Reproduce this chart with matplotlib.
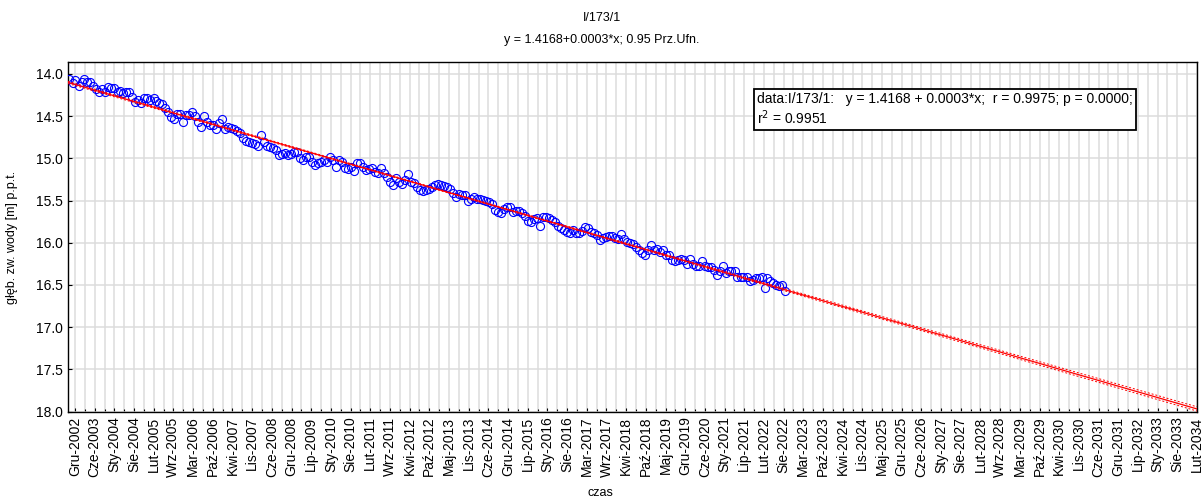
import numpy as np
import pandas as pd
import matplotlib
matplotlib.use('Agg')
import matplotlib.pyplot as plt
import matplotlib.dates as mdates
from matplotlib.ticker import FixedLocator

plt.rcParams['font.family'] = ['Liberation Sans', 'DejaVu Sans']

# pomiary miesięczne głębokości zwierciadła wody, otwór I/173/1
daty = pd.date_range('2002-10-01', periods=240, freq='MS') + pd.Timedelta(days=14)
glebokosc = [
    14.06, 14.11, 14.07, 14.14, 14.10, 14.06, 14.10, 14.10, 14.15, 14.18, 14.22, 14.18,
    14.22, 14.16, 14.17, 14.17, 14.22, 14.20, 14.23, 14.22, 14.22, 14.27, 14.33, 14.31,
    14.34, 14.29, 14.29, 14.31, 14.29, 14.32, 14.35, 14.36, 14.40, 14.45, 14.51, 14.53,
    14.47, 14.48, 14.57, 14.49, 14.49, 14.45, 14.50, 14.57, 14.63, 14.50, 14.57, 14.61,
    14.60, 14.65, 14.58, 14.54, 14.65, 14.63, 14.64, 14.65, 14.68, 14.70, 14.76, 14.79,
    14.81, 14.82, 14.83, 14.85, 14.72, 14.81, 14.85, 14.87, 14.88, 14.90, 14.96, 14.95,
    14.94, 14.96, 14.95, 14.93, 14.92, 15.00, 15.02, 14.99, 14.98, 15.04, 15.08, 15.06,
    15.04, 15.02, 15.04, 14.98, 15.02, 15.10, 15.02, 15.04, 15.11, 15.13, 15.10, 15.15,
    15.06, 15.06, 15.10, 15.14, 15.13, 15.11, 15.16, 15.18, 15.11, 15.17, 15.22, 15.28,
    15.32, 15.23, 15.28, 15.30, 15.26, 15.19, 15.28, 15.29, 15.34, 15.38, 15.39, 15.37,
    15.36, 15.34, 15.32, 15.31, 15.32, 15.33, 15.34, 15.36, 15.41, 15.46, 15.42, 15.44,
    15.44, 15.50, 15.48, 15.46, 15.48, 15.48, 15.49, 15.50, 15.52, 15.54, 15.61, 15.63,
    15.65, 15.60, 15.58, 15.58, 15.63, 15.62, 15.62, 15.65, 15.68, 15.74, 15.76, 15.72,
    15.71, 15.80, 15.70, 15.69, 15.71, 15.73, 15.75, 15.80, 15.83, 15.85, 15.87, 15.88,
    15.85, 15.89, 15.88, 15.86, 15.81, 15.83, 15.87, 15.89, 15.91, 15.97, 15.94, 15.93,
    15.92, 15.92, 15.94, 15.95, 15.90, 15.96, 15.99, 16.00, 16.01, 16.05, 16.09, 16.12,
    16.15, 16.09, 16.03, 16.09, 16.07, 16.11, 16.09, 16.15, 16.14, 16.20, 16.22, 16.20,
    16.19, 16.20, 16.25, 16.19, 16.25, 16.27, 16.27, 16.22, 16.27, 16.29, 16.29, 16.32,
    16.38, 16.33, 16.28, 16.36, 16.34, 16.34, 16.33, 16.40, 16.40, 16.40, 16.40, 16.45,
    16.44, 16.42, 16.42, 16.41, 16.53, 16.42, 16.45, 16.48, 16.50, 16.51, 16.50, 16.57,
]

etykiety_x = [
    'Gru-2002', 'Cze-2003', 'Sty-2004', 'Sie-2004', 'Lut-2005', 'Wrz-2005', 'Mar-2006',
    'Paź-2006', 'Kwi-2007', 'Lis-2007', 'Cze-2008', 'Gru-2008', 'Lip-2009', 'Sty-2010',
    'Sie-2010', 'Lut-2011', 'Wrz-2011', 'Kwi-2012', 'Paź-2012', 'Maj-2013', 'Lis-2013',
    'Cze-2014', 'Gru-2014', 'Lip-2015', 'Sty-2016', 'Sie-2016', 'Mar-2017', 'Wrz-2017',
    'Kwi-2018', 'Paź-2018', 'Maj-2019', 'Gru-2019', 'Cze-2020', 'Sty-2021', 'Lip-2021',
    'Lut-2022', 'Sie-2022', 'Mar-2023', 'Paź-2023', 'Kwi-2024', 'Lis-2024', 'Maj-2025',
    'Gru-2025', 'Cze-2026', 'Sty-2027', 'Sie-2027', 'Lut-2028', 'Wrz-2028', 'Mar-2029',
    'Paź-2029', 'Kwi-2030', 'Lis-2030', 'Cze-2031', 'Gru-2031', 'Lip-2032', 'Sty-2033',
    'Sie-2033', 'Lut-2034',
]
yticks = [14.0, 14.5, 15.0, 15.5, 16.0, 16.5, 17.0, 17.5, 18.0]

x = mdates.date2num(daty)
y = np.array(glebokosc)

# podziałka osi czasu co 200 dni
t0 = mdates.date2num(pd.Timestamp('2002-12-10'))
major = t0 + 200 * np.arange(len(etykiety_x))
minor = t0 + 100 * np.arange(2 * len(etykiety_x) - 1)
xmin, xmax = t0 - 71, major[-1]

# regresja liniowa + przedział ufności 0.95
a, b = np.polyfit(x, y, 1)
n = len(x)
s = np.sqrt(np.sum((y - (a * x + b)) ** 2) / (n - 2))
sxx = np.sum((x - x.mean()) ** 2)
xl = np.linspace(xmin, xmax, 400)
yl = a * xl + b
d = 1.97 * s * np.sqrt(1 / n + (xl - x.mean()) ** 2 / sxx)

fig = plt.figure(figsize=(12.03, 4.99), dpi=100)
ax = fig.add_axes([68 / 1203, 1 - 411.7 / 499, (1197 - 68) / 1203, (411.7 - 62) / 499])

ax.plot(x, y, 'o', ms=5.8, mfc='none', mec='#0000ff', mew=0.8, zorder=3)
ax.plot(xl, yl, color='red', lw=0.9, zorder=4)
ax.plot(xl, yl - d, color='red', lw=0.7, ls=(0, (2, 2)), zorder=4)
ax.plot(xl, yl + d, color='red', lw=0.7, ls=(0, (2, 2)), zorder=4)

ax.set_xlim(xmin, xmax)
ax.set_ylim(18.0, 13.86)
ax.xaxis.set_major_locator(FixedLocator(major))
ax.xaxis.set_minor_locator(FixedLocator(minor))
ax.set_xticklabels(etykiety_x, rotation=90, fontsize=10)
ax.set_yticks(yticks)
ax.set_yticklabels(['%.1f' % v for v in yticks], fontsize=10)

ax.grid(which='both', axis='x', color='#dcdcdc', lw=1.1)
ax.grid(which='major', axis='y', color='#dcdcdc', lw=1.1)
ax.set_axisbelow(True)
ax.tick_params(which='both', direction='in', length=3, width=0.8)
ax.tick_params(axis='x', which='minor', length=2)
for sp in ax.spines.values():
    sp.set_linewidth(1.0)

fig.text(0.5, 1 - 18 / 499, 'I/173/1', ha='center', va='center', fontsize=9,
         family=['Liberation Sans Narrow', 'Liberation Sans'])
fig.text(0.5, 1 - 40 / 499, 'y = 1.4168+0.0003*x; 0.95 Prz.Ufn.', ha='center', va='center',
         fontsize=9, family=['Liberation Sans Narrow', 'Liberation Sans'])
fig.text(12 / 1203, 1 - 237 / 499, 'głęb. zw. wody [m] p.p.t.', rotation=90,
         ha='center', va='center', fontsize=9)
fig.text(600 / 1203, 1 - 493 / 499, 'czas', ha='center', va='center', fontsize=9)

ax.text(757 / 1203, 1 - 92 / 499,
        'data:I/173/1:   y = 1.4168 + 0.0003*x;  r = 0.9975; p = 0.0000;\nr$^2$ = 0.9951',
        transform=fig.transFigure, ha='left', va='top', fontsize=10, linespacing=1.15,
        bbox=dict(boxstyle='square,pad=0.25', fc='white', ec='black', lw=1.3), zorder=5)

fig.savefig('out.png', dpi=100)
